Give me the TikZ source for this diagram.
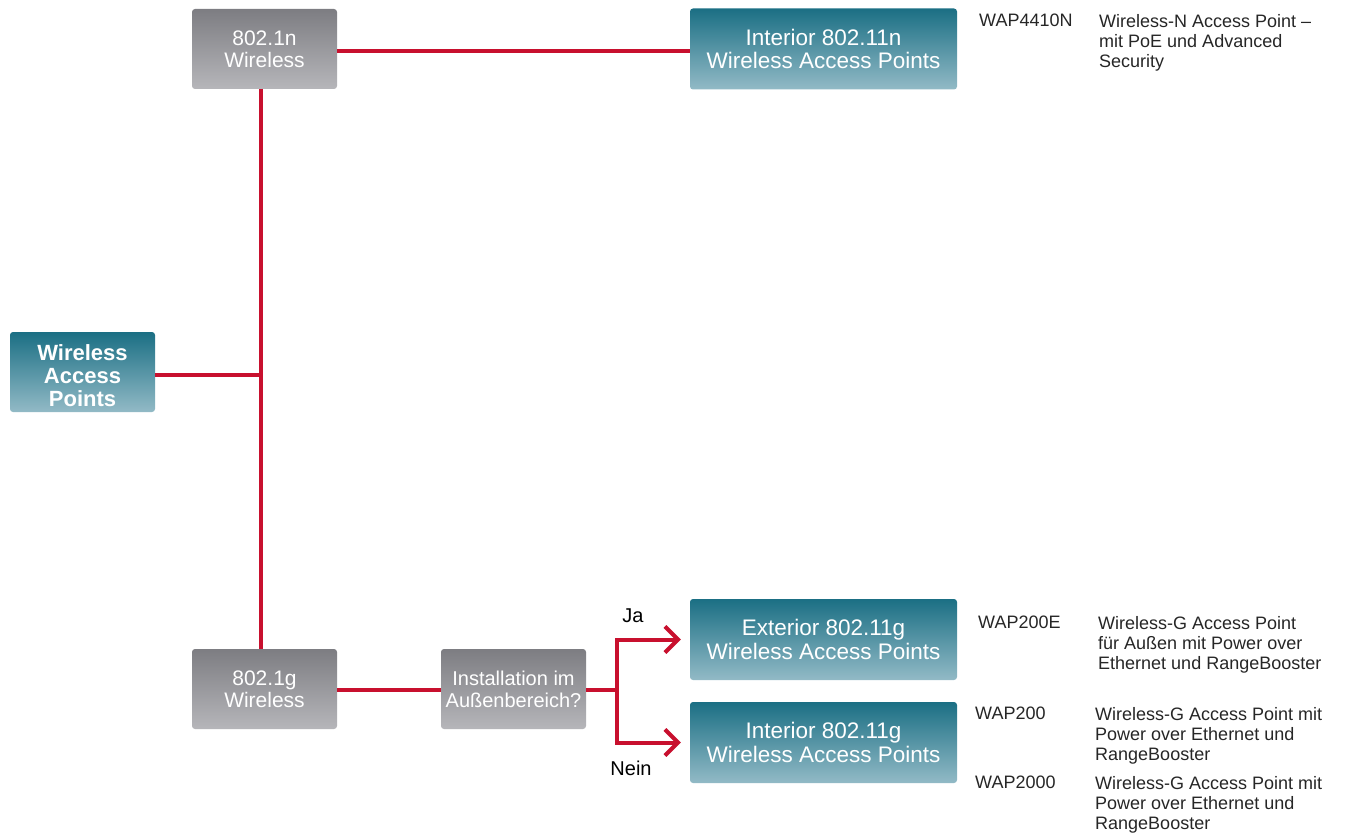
\documentclass[tikz,border=0pt]{standalone}
\usepackage{fontspec}
\setmainfont{Liberation Sans}
\usetikzlibrary{arrows.meta}
\definecolor{cred}{RGB}{200,16,46}
\definecolor{gtop}{RGB}{125,125,130}
\definecolor{gbot}{RGB}{182,182,186}
\definecolor{ttop}{RGB}{27,111,132}
\definecolor{tbot}{RGB}{146,186,198}
\begin{document}
\begin{tikzpicture}[x=1pt,y=-1pt,
  graybox/.style={rounded corners=3pt, top color=gtop, bottom color=gbot, draw=none,
    minimum width=145pt, minimum height=80pt, inner sep=0pt, align=center, text=white,
    font=\fontsize{21}{22}\selectfont},
  tealbox/.style={rounded corners=3pt, top color=ttop, bottom color=tbot, draw=none,
    minimum width=267pt, minimum height=81pt, inner sep=0pt, align=center, text=white,
    font=\fontsize{22.5}{23.5}\selectfont},
  redline/.style={draw=cred, line width=4pt},
  redarrow/.style={redline, -{Straight Barb[length=13pt,width=26pt]}, shorten >=9pt},
  desc/.style={anchor=north west, inner sep=0pt, align=left, text=black!85,
    font=\fontsize{18}{20}\selectfont},
  lbl/.style={inner sep=0pt, text=black, font=\fontsize{20}{22}\selectfont}
]
\useasboundingbox (0,0) rectangle (1352,834);

\node[graybox] (n1) at (264.5,49) {802.1n\\Wireless};
\node[tealbox] (i11n) at (823.5,49) {Interior 802.11n\\Wireless Access Points};
\node[tealbox, minimum width=145pt, minimum height=80pt] (wap) at (82.5,372) {};
\node[inner sep=0pt, align=center, text=white,
  font=\fontsize{22}{23}\selectfont\bfseries] (waptxt) at (82.5,375.5) {Wireless\\Access\\Points};
\node[graybox] (g1) at (264.5,689) {802.1g\\Wireless};
\node[graybox, font=\fontsize{20}{22}\selectfont] (inst) at (513.5,689) {Installation im\\Außenbereich?};
\node[tealbox] (ext) at (823.5,639.5) {Exterior 802.11g\\Wireless Access Points};
\node[tealbox] (i11g) at (823.5,742.5) {Interior 802.11g\\Wireless Access Points};

\coordinate (jn) at (261,375);
\coordinate (br) at (617,690);

\draw[redline] (n1.east |- 0,51) -- (i11n.west |- 0,51);
\draw[redline] (261,89) -- (261,649);
\draw[redline] (wap.east |- jn) -- (jn);
\draw[redline] (g1.east |- br) -- (inst.west |- br);
\draw[redline] (inst.east |- br) -- (br);
\draw[redarrow] (br) |- (ext.west);
\draw[redarrow] (br) |- (i11g.west);

\node[lbl] (ja) at (633,616) {Ja};
\node[lbl] (nein) at (631,768) {Nein};

\node[desc] (m1) at (979,14) {WAP4410N};
\node[desc] (d1) at (1099,14) {Wireless-N Access Point –\\mit PoE und Advanced\\Security};
\node[desc] (m2) at (978,616) {WAP200E};
\node[desc] (d2) at (1098,616) {Wireless-G Access Point\\für Außen mit Power over\\Ethernet und RangeBooster};
\node[desc] (m3) at (975,707) {WAP200};
\node[desc] (d3) at (1095,707) {Wireless-G Access Point mit\\Power over Ethernet und\\RangeBooster};
\node[desc] (m4) at (975,776) {WAP2000};
\node[desc] (d4) at (1095,776) {Wireless-G Access Point mit\\Power over Ethernet und\\RangeBooster};
\end{tikzpicture}
\end{document}
